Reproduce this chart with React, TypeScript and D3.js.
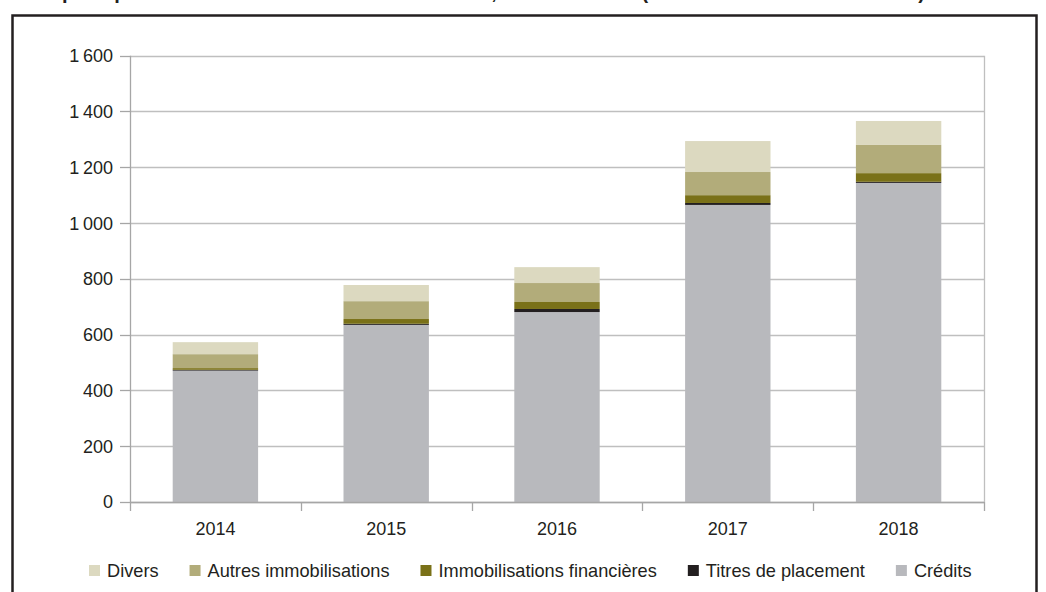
import React, { useEffect, useRef } from "react";
import * as d3 from "d3";

const years = ["2014", "2015", "2016", "2017", "2018"];
const seriesNames = ["Crédits", "Titres de placement", "Immobilisations financières", "Autres immobilisations", "Divers"];
const credits = [471, 635, 681, 1065, 1144];
const titres = [3, 4, 11, 7, 4];
const immoFin = [6, 17, 25, 28, 31];
const autresImmo = [50, 64, 68, 83, 101];
const divers = [43, 58, 57, 111, 86];
const seriesColors = ["#b8b9bd", "#231f20", "#7a7118", "#b2ac7a", "#dcd9c0"];
const legendOrder = ["Divers", "Autres immobilisations", "Immobilisations financières", "Titres de placement", "Crédits"];
const yTicks = [0, 200, 400, 600, 800, 1000, 1200, 1400, 1600];
const titleMain = "Emplois par nature des établissements de crédit, en fin d'année ";
const titleUnit = "(en milliards de francs CFA)";

const W = 1046;
const H = 592;
const FONT = "'Liberation Sans', Arial, sans-serif";
const TXT = "#231f20";
const FS = 18;

export default function App() {
  const ref = useRef<SVGSVGElement | null>(null);

  useEffect(() => {
    const svg = d3.select(ref.current);
    svg.selectAll("*").remove();

    const m = { left: 130, right: 984, top: 55.7, bottom: 502 };
    const x = d3.scaleBand<string>().domain(years).range([m.left, m.right]).paddingInner(0.5).paddingOuter(0.25);
    const y = d3.scaleLinear().domain([0, 1600]).range([m.bottom, m.top]);

    // title (cropped at top)
    const tt = svg.append("text")
      .attr("x", 31).attr("y", -1)
      .attr("font-family", FONT).attr("font-weight", "bold").attr("font-size", 20)
      .attr("fill", TXT);
    tt.append("tspan").text(titleMain);
    tt.append("tspan").attr("letter-spacing", 0.7).text(titleUnit);

    // frame
    svg.append("rect")
      .attr("x", 12.5).attr("y", 15.5).attr("width", 1024).attr("height", 600)
      .attr("fill", "none").attr("stroke", "#231f20").attr("stroke-width", 2.5);

    // gridlines
    svg.append("g").selectAll("line").data(yTicks).join("line")
      .attr("x1", m.left).attr("x2", m.right)
      .attr("y1", d => Math.round(y(d)) + 0.5).attr("y2", d => Math.round(y(d)) + 0.5)
      .attr("stroke", "#bfbfbf").attr("stroke-width", 1.3);

    // plot border right & left axis
    svg.append("line").attr("x1", m.right + 0.5).attr("x2", m.right + 0.5)
      .attr("y1", y(1600)).attr("y2", m.bottom).attr("stroke", "#bfbfbf").attr("stroke-width", 1.3);
    svg.append("line").attr("x1", m.left + 0.5).attr("x2", m.left + 0.5)
      .attr("y1", y(1600)).attr("y2", m.bottom).attr("stroke", "#a6a6a6").attr("stroke-width", 1.3);

    // y ticks
    svg.append("g").selectAll("line").data(yTicks).join("line")
      .attr("x1", m.left - 10).attr("x2", m.left)
      .attr("y1", d => Math.round(y(d)) + 0.5).attr("y2", d => Math.round(y(d)) + 0.5)
      .attr("stroke", "#a6a6a6").attr("stroke-width", 1.3);
    const fmt = (v: number) => d3.format(",")(v).replace(/,/g, "\u2009");
    svg.append("g").selectAll("text").data(yTicks).join("text")
      .attr("x", m.left - 17).attr("y", d => y(d)).attr("dy", "0.36em")
      .attr("text-anchor", "end").attr("font-family", FONT).attr("font-size", FS)
      .attr("fill", TXT).text(d => fmt(d));

    // stacked bars
    const rows = years.map((yr, i) => ({
      year: yr,
      "Crédits": credits[i],
      "Titres de placement": titres[i],
      "Immobilisations financières": immoFin[i],
      "Autres immobilisations": autresImmo[i],
      "Divers": divers[i],
    }));
    const stack = d3.stack<any>().keys(seriesNames)(rows);
    const color = d3.scaleOrdinal<string, string>().domain(seriesNames).range(seriesColors);
    svg.append("g").selectAll("g").data(stack).join("g")
      .attr("fill", d => color(d.key))
      .selectAll("rect").data(d => d).join("rect")
      .attr("x", (d: any) => x(d.data.year)!)
      .attr("width", x.bandwidth())
      .attr("y", d => y(d[1]))
      .attr("height", d => y(d[0]) - y(d[1]));

    // x axis baseline
    svg.append("line").attr("x1", m.left).attr("x2", m.right)
      .attr("y1", m.bottom + 0.5).attr("y2", m.bottom + 0.5)
      .attr("stroke", "#a6a6a6").attr("stroke-width", 1.3);
    const step = x.step();
    const bounds = d3.range(years.length + 1).map(i => m.left + i * step);
    svg.append("g").selectAll("line").data(bounds).join("line")
      .attr("x1", d => Math.round(d) + 0.5).attr("x2", d => Math.round(d) + 0.5)
      .attr("y1", m.bottom).attr("y2", m.bottom + 9)
      .attr("stroke", "#a6a6a6").attr("stroke-width", 1.3);
    svg.append("g").selectAll("text").data(years).join("text")
      .attr("x", d => x(d)! + x.bandwidth() / 2).attr("y", 529).attr("dy", "0.36em")
      .attr("text-anchor", "middle").attr("font-family", FONT).attr("font-size", FS)
      .attr("fill", TXT).text(d => d);

    // legend
    const lg = svg.append("g");
    let cx = 89;
    legendOrder.forEach(name => {
      lg.append("rect").attr("x", cx).attr("y", 565).attr("width", 11).attr("height", 11).attr("fill", color(name));
      const t = lg.append("text").attr("x", cx + 18).attr("y", 570.5).attr("dy", "0.36em")
        .attr("font-family", FONT).attr("font-size", 18.2).attr("fill", TXT).text(name);
      const w = (t.node() as SVGTextElement).getComputedTextLength();
      cx = cx + 18 + w + 31;
    });
  }, []);

  return (
    <svg ref={ref} width={W} height={H}
      style={{ position: "absolute", left: 0, top: 0, background: "#fff" }} />
  );
}
